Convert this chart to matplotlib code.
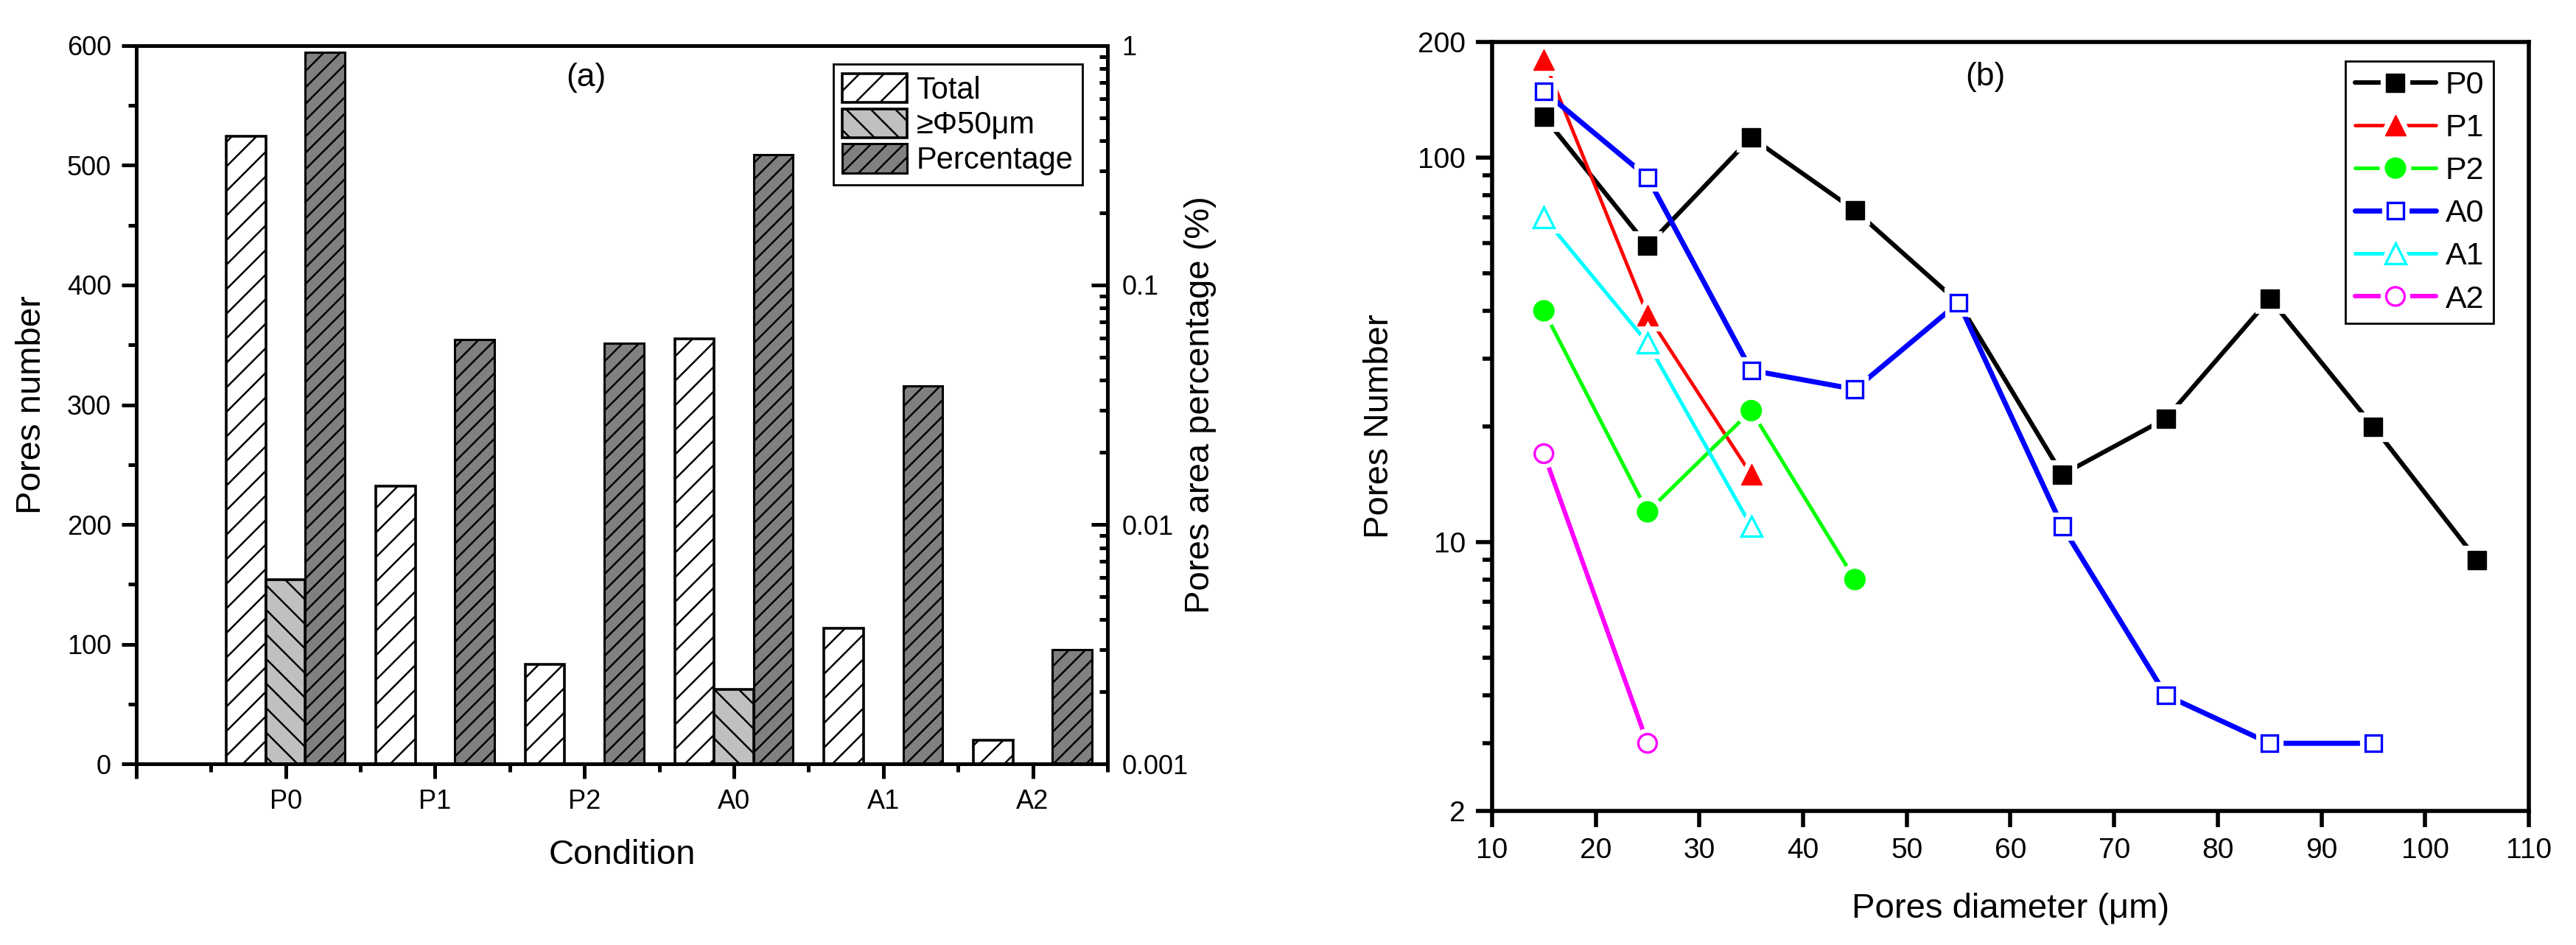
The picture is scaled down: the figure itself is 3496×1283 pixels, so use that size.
import numpy as np
import matplotlib
matplotlib.use("Agg")
import matplotlib.pyplot as plt
import matplotlib.patheffects as pe
from matplotlib.ticker import MultipleLocator, FixedLocator, LogLocator, NullFormatter, FuncFormatter

plt.rcParams['font.family'] = ['Liberation Sans', 'DejaVu Sans']
plt.rcParams['hatch.linewidth'] = 0.9

# (a) pores counts per condition
conditions = ['P0', 'P1', 'P2', 'A0', 'A1', 'A2']
total_pores = [524, 232, 83, 355, 113, 20]
big_pores = [154, np.nan, np.nan, 62, np.nan, np.nan]   # >= 50 um
area_pct = [0.94, 0.059, 0.057, 0.35, 0.038, 0.0030]

# (b) pores number vs diameter
diam_p0 = [15, 25, 35, 45, 55, 65, 75, 85, 95, 105]
num_p0 = [128, 59, 113, 73, 42, 15, 21, 43, 20, 9]
diam_p1 = [15, 25, 35]
num_p1 = [180, 39, 15]
diam_p2 = [15, 25, 35, 45]
num_p2 = [40, 12, 22, 8]
diam_a0 = [15, 25, 35, 45, 55, 65, 75, 85, 95]
num_a0 = [149, 89, 28, 25, 42, 11, 4, 3, 3]
diam_a1 = [15, 25, 35]
num_a1 = [70, 33, 11]
diam_a2 = [15, 25]
num_a2 = [17, 3]

fig = plt.figure(figsize=(17.48, 6.415), dpi=200)

# ---------------- panel (a) ----------------
ax = fig.add_axes([0.0529, 0.1917, 0.3770, 0.7600])
x = np.arange(1, len(conditions) + 1)
w = 0.264
ax.bar(x - w, total_pores, w, color='white', edgecolor='black', hatch='//', linewidth=1.3, label='Total')
ax.bar(x, big_pores, w, color='#c0c0c0', edgecolor='black', hatch='\\\\', linewidth=1.3, label='≥Φ50μm')

ax2 = ax.twinx()
ax2.set_yscale('log')
ax2.set_ylim(1e-3, 1)
ax2.bar(x + w, np.array(area_pct) - 1e-3, w, bottom=1e-3, color='#808080', edgecolor='black',
        hatch='///', linewidth=1.1, label='Percentage')

ax.set_xlim(0, 6.5)
ax.set_ylim(0, 600)
ax.set_xticks(np.arange(0, 7))
ax.set_xticklabels([''] + conditions)
ax.xaxis.set_minor_locator(MultipleLocator(0.5))
ax.yaxis.set_major_locator(MultipleLocator(100))
ax.yaxis.set_minor_locator(MultipleLocator(50))
ax.tick_params(which='major', direction='out', length=7.2, width=1.8, labelsize=13, pad=5)
ax.tick_params(which='minor', direction='out', length=4, width=1.8)
ax.tick_params(top=False, right=False)

ax2.yaxis.set_major_locator(FixedLocator([0.001, 0.01, 0.1, 1]))
ax2.yaxis.set_major_formatter(FuncFormatter(lambda v, p: '%g' % v))
ax2.yaxis.set_minor_locator(LogLocator(base=10, subs=np.arange(2, 10)))
ax2.yaxis.set_minor_formatter(NullFormatter())
ax2.tick_params(axis='y', which='major', direction='in', length=8, width=1.8, labelsize=13, pad=7)
ax2.tick_params(axis='y', which='minor', direction='in', length=4, width=1.8)

for a in (ax, ax2):
    for s in a.spines.values():
        s.set_linewidth(1.8)

ax.set_xlabel('Condition', fontsize=17)
ax.xaxis.set_label_coords(0.5, -0.105)
ax.set_ylabel('Pores number', fontsize=17)
ax.yaxis.set_label_coords(-0.091, 0.5)
ax2.set_ylabel('Pores area percentage (%)', fontsize=17)
ax2.yaxis.set_label_coords(1.079, 0.5)
ax.text(0.463, 0.955, '(a)', transform=ax.transAxes, fontsize=16, ha='center', va='center')

h1, l1 = ax.get_legend_handles_labels()
h2, l2 = ax2.get_legend_handles_labels()
leg = ax2.legend(h1 + h2, l1 + l2, loc='upper right', bbox_to_anchor=(0.974, 0.974), borderaxespad=0,
                 fontsize=15, handlelength=2.1, handleheight=1.07, labelspacing=0.12, handletextpad=0.3,
                 borderpad=0.3, fancybox=False, framealpha=1, edgecolor='black')
leg.get_frame().set_linewidth(1.0)

# ---------------- panel (b) ----------------
axr = fig.add_axes([0.5792, 0.1418, 0.4025, 0.8137])
series = [
    ('P0', diam_p0, num_p0, dict(color='black', marker='s', ms=9, mfc='black', mew=0.5, lw=2.2)),
    ('P1', diam_p1, num_p1, dict(color='#ff0000', marker='^', ms=10, mfc='#ff0000', mew=0.5, lw=1.7)),
    ('P2', diam_p2, num_p2, dict(color='#00ff00', marker='o', ms=10, mfc='#00ff00', mew=0.5, lw=1.8)),
    ('A0', diam_a0, num_a0, dict(color='#0000ff', marker='s', ms=8, mfc='white', mew=1.2, lw=2.5)),
    ('A1', diam_a1, num_a1, dict(color='#00ffff', marker='^', ms=10, mfc='white', mew=1.2, lw=1.8)),
    ('A2', diam_a2, num_a2, dict(color='#ff00ff', marker='o', ms=9, mfc='white', mew=1.2, lw=2.2)),
]
handles = []
labels = []
halo = [pe.Stroke(linewidth=5.5, foreground='white'), pe.Normal()]
for name, d, n, st in series:
    ln, = axr.plot(d, n, color=st['color'], lw=st['lw'], solid_capstyle='round')
    mk, = axr.plot(d, n, ls='none', marker=st['marker'], ms=st['ms'], mfc=st['mfc'],
                   mec=st['color'], mew=st['mew'], path_effects=halo)
    handles.append((ln, mk))
    labels.append(name)

axr.set_yscale('log')
axr.set_xlim(10, 110)
axr.set_ylim(2, 200)
axr.xaxis.set_major_locator(MultipleLocator(10))
axr.yaxis.set_major_locator(FixedLocator([2, 10, 100, 200]))
axr.yaxis.set_major_formatter(FuncFormatter(lambda v, p: '%g' % v))
axr.yaxis.set_minor_locator(LogLocator(base=10, subs=np.arange(2, 10)))
axr.yaxis.set_minor_formatter(NullFormatter())
axr.tick_params(which='major', direction='out', length=8, width=2.0, labelsize=14, pad=5)
axr.tick_params(axis='y', which='minor', direction='out', length=4.7, width=2.0)
axr.tick_params(top=False, right=False)
for s in axr.spines.values():
    s.set_linewidth(2.0)

axr.set_xlabel('Pores diameter (μm)', fontsize=17)
axr.xaxis.set_label_coords(0.5, -0.106)
axr.set_ylabel('Pores Number', fontsize=17)
axr.yaxis.set_label_coords(-0.093, 0.5)
axr.text(0.4755, 0.955, '(b)', transform=axr.transAxes, fontsize=16, ha='center', va='center')

legr = axr.legend(handles, labels, loc='upper right', bbox_to_anchor=(0.966, 0.975), borderaxespad=0,
                  fontsize=15.5, numpoints=1, handlelength=2.55, labelspacing=0.42, handletextpad=0.3,
                  borderpad=0.3, fancybox=False, framealpha=1, edgecolor='black')
legr.get_frame().set_linewidth(1.0)

fig.savefig('out.png', dpi=200)
